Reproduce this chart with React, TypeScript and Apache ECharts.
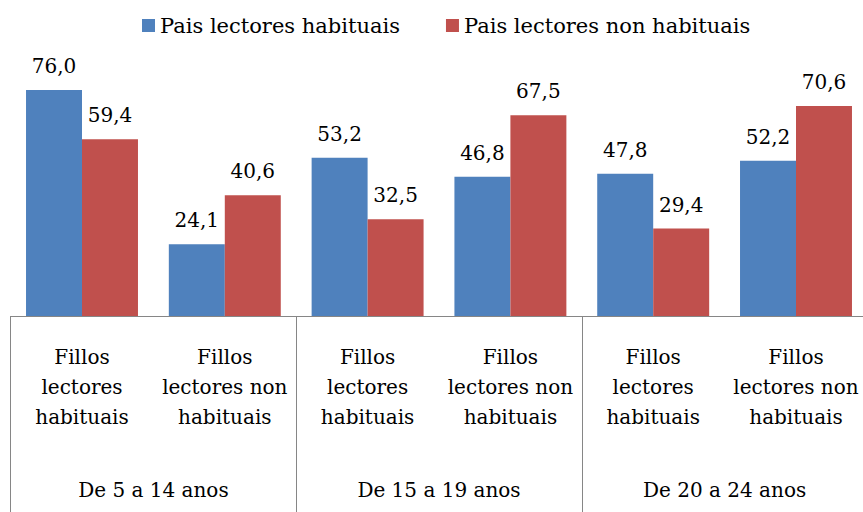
import React, { useEffect, useRef } from "react";
import * as echarts from "echarts";

const categories = [
  "Fillos\nlectores\nhabituais",
  "Fillos\nlectores non\nhabituais",
  "Fillos\nlectores\nhabituais",
  "Fillos\nlectores non\nhabituais",
  "Fillos\nlectores\nhabituais",
  "Fillos\nlectores non\nhabituais",
];
const groups = ["De 5 a 14 anos", "De 15 a 19 anos", "De 20 a 24 anos"];
const seriesNames = ["Pais lectores habituais", "Pais lectores non habituais"];
const habituais = [76.0, 24.1, 53.2, 46.8, 47.8, 52.2];
const nonHabituais = [59.4, 40.6, 32.5, 67.5, 29.4, 70.6];

const FONT = "DejaVu Serif";

export default function App() {
  const ref = useRef<HTMLDivElement>(null);
  useEffect(() => {
    if (!ref.current) return;
    const chart = echarts.init(ref.current, null, { renderer: "svg" });
    const labelFmt = (p: any) => Number(p.value).toFixed(1).replace(".", ",");
    chart.setOption({
      animation: false,
      textStyle: { fontFamily: FONT },
      legend: {
        top: 15,
        left: 142,
        padding: 0,
        itemWidth: 13,
        itemHeight: 13,
        itemGap: 46,
        icon: "rect",
        textStyle: { fontFamily: FONT, fontSize: 21, color: "#000" },
        data: seriesNames,
      },
      grid: { left: 10.6, width: 856.8, top: 78, bottom: 196, containLabel: false, outerBoundsMode: "none" },
      xAxis: [
        {
          type: "category",
          data: categories,
          position: "bottom",
          axisLine: { show: true, lineStyle: { color: "#868686", width: 1 } },
          axisTick: { show: false },
          axisLabel: {
            interval: 0,
            margin: 26,
            fontFamily: FONT,
            fontSize: 20,
            lineHeight: 30,
            color: "#000",
          },
        },
        {
          type: "category",
          data: groups,
          position: "bottom",
          axisLine: { show: false },
          axisTick: { show: true, length: 200, lineStyle: { color: "#868686", width: 1 } },
          axisLabel: {
            interval: 0,
            margin: 164,
            fontFamily: FONT,
            fontSize: 20,
            color: "#000",
          },
        },
      ],
      yAxis: {
        type: "value",
        min: 0,
        max: 80,
        show: false,
        splitLine: { show: false },
      },
      series: [
        {
          name: seriesNames[0],
          type: "bar",
          data: habituais,
          itemStyle: { color: "#4F81BD" },
          barGap: "0%",
          barCategoryGap: "21.6%",
          label: {
            show: true,
            position: "top",
            distance: 14,
            formatter: labelFmt,
            fontFamily: FONT,
            fontSize: 20,
            color: "#000",
          },
        },
        {
          name: seriesNames[1],
          type: "bar",
          data: nonHabituais,
          itemStyle: { color: "#C0504D" },
          barGap: "0%",
          barCategoryGap: "21.6%",
          label: {
            show: true,
            position: "top",
            distance: 14,
            formatter: labelFmt,
            fontFamily: FONT,
            fontSize: 20,
            color: "#000",
          },
        },
      ],
    });
    return () => chart.dispose();
  }, []);
  return <div ref={ref} style={{ width: 863, height: 512, position: "absolute", left: 0, top: 0 }} />;
}
